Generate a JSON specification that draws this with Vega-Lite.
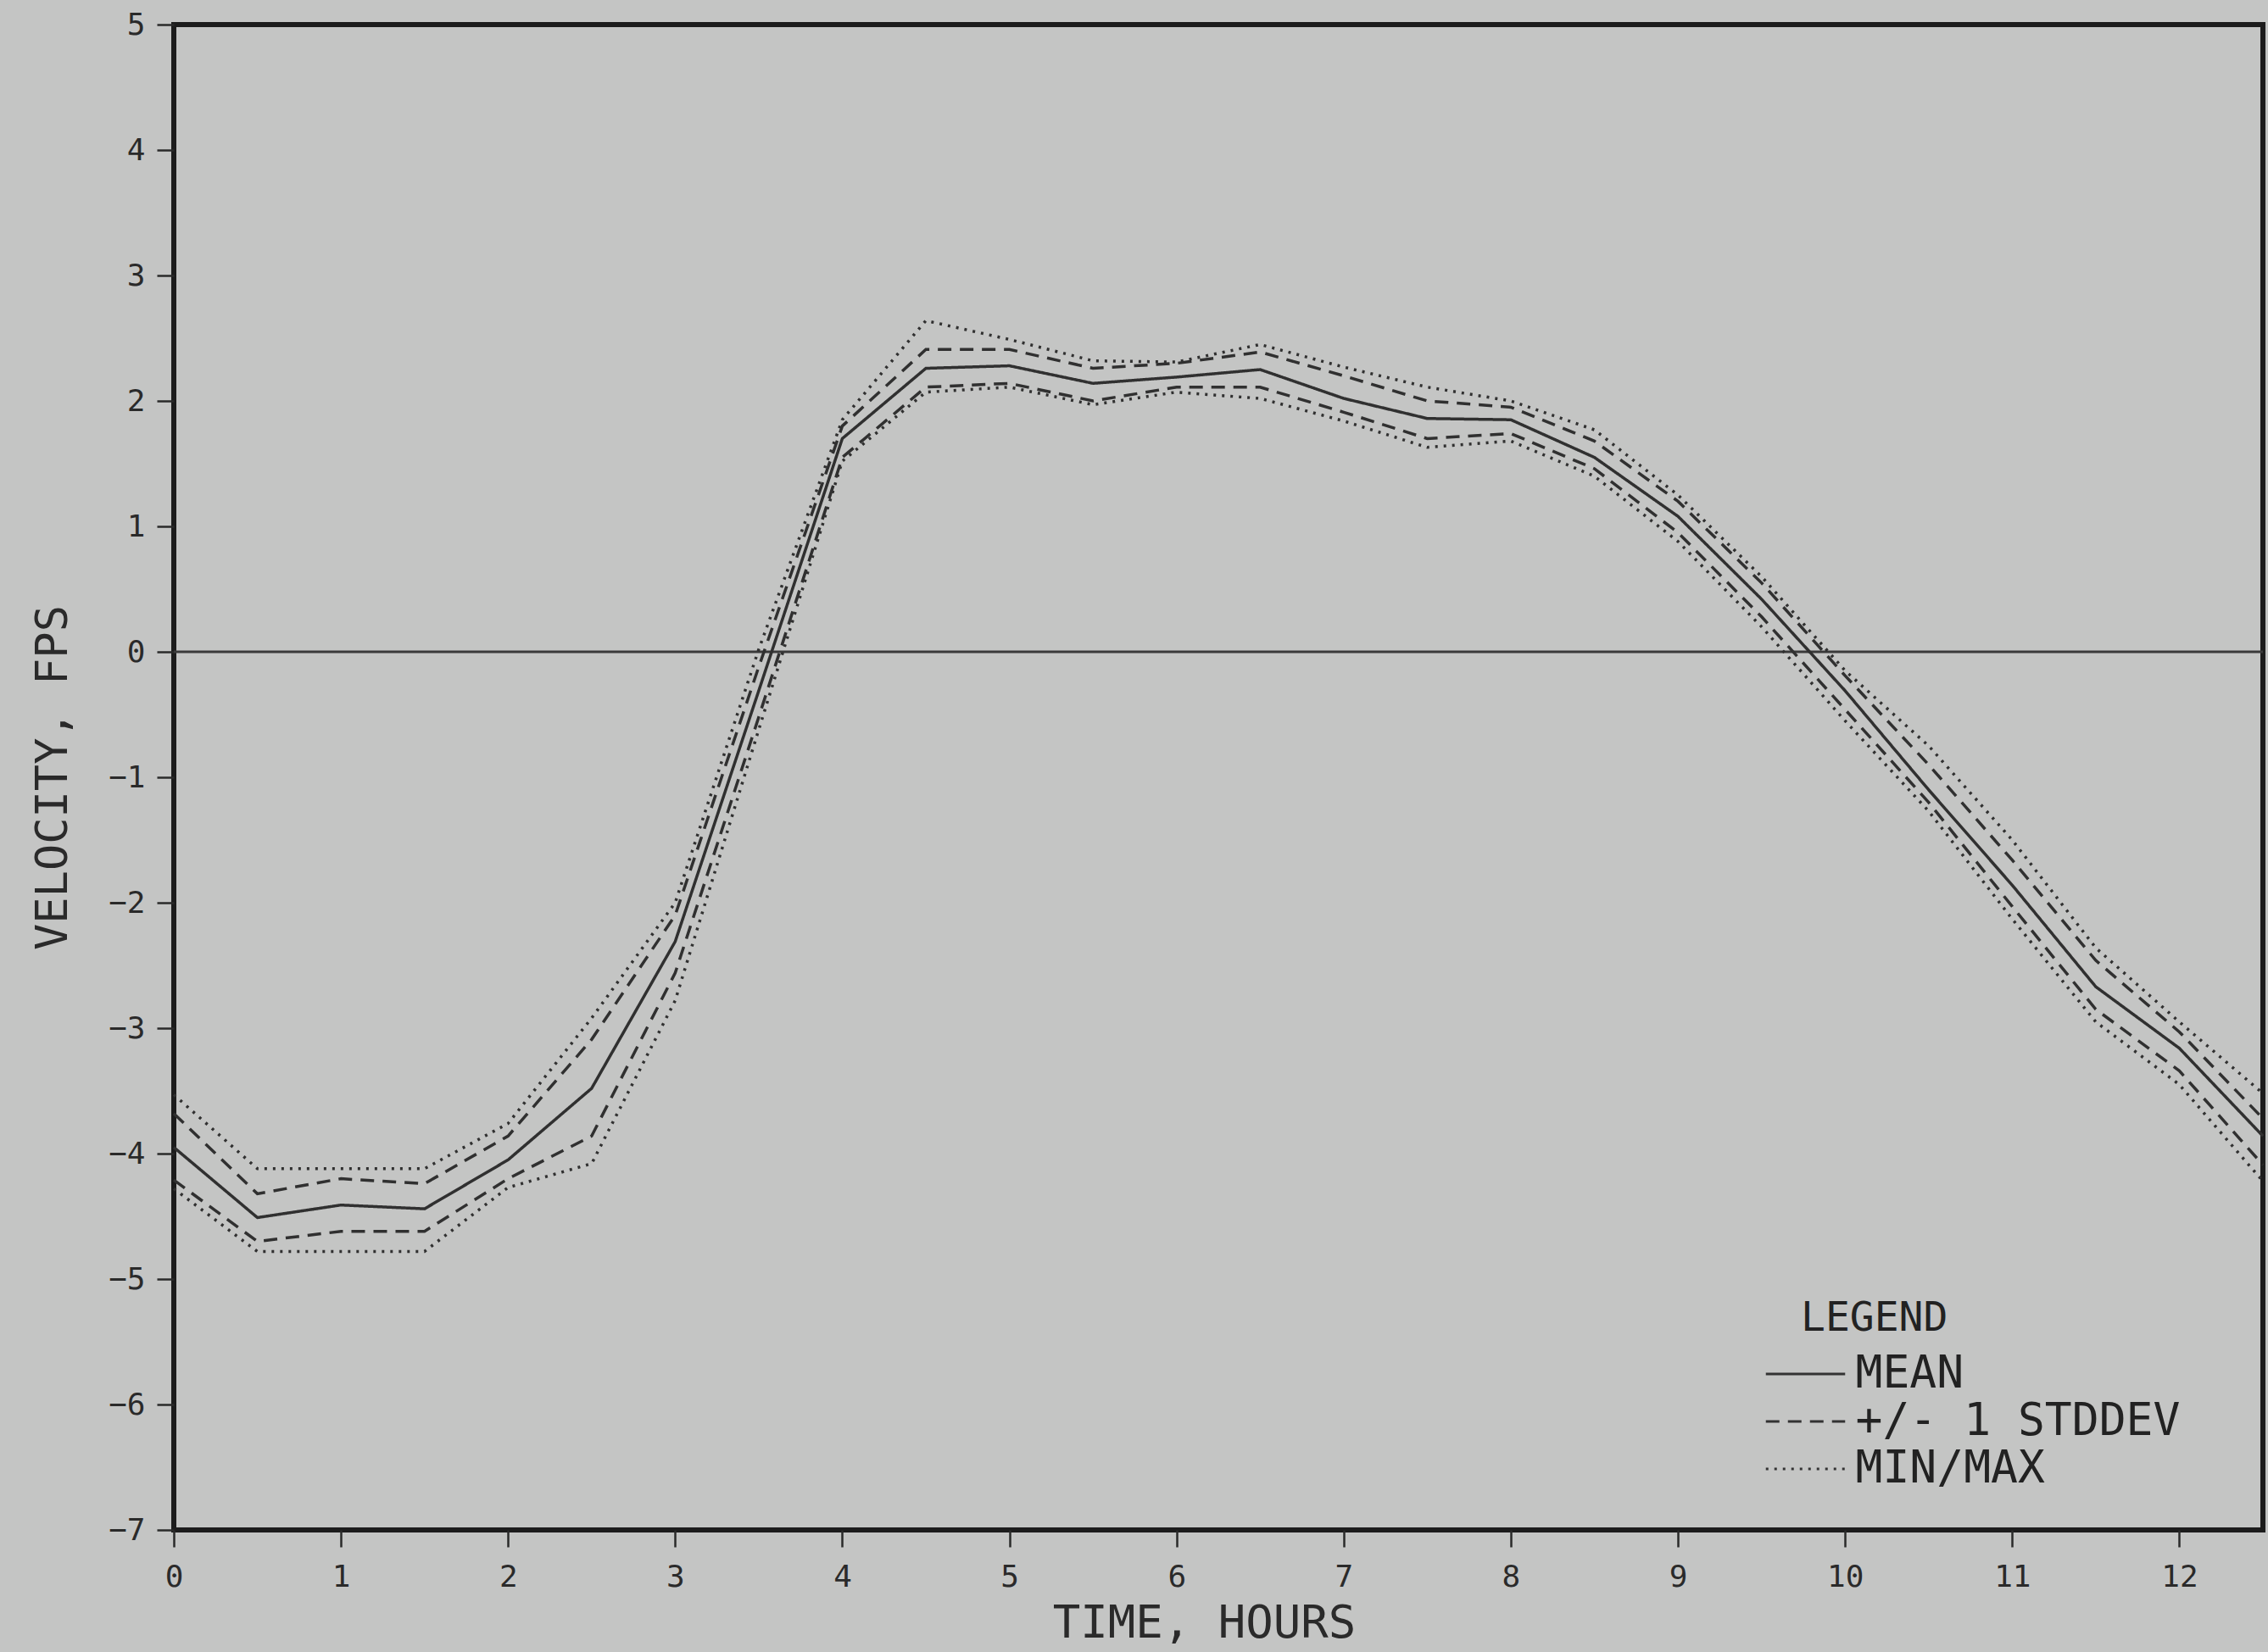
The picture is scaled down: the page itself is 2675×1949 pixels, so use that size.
{
  "$schema": "https://vega.github.io/schema/vega-lite/v6.json",
  "width": 2464,
  "height": 1776,
  "autosize": {"type": "none"},
  "padding": {"left": 205, "top": 29, "right": 6, "bottom": 144},
  "background": "#c4c5c4",
  "config": {
    "font": "DejaVu Sans Mono",
    "view": {"stroke": "#1c1c1c", "strokeWidth": 6},
    "axis": {
      "grid": false,
      "domain": false,
      "tickColor": "#2a2a2a",
      "tickWidth": 2.5,
      "tickSize": 20,
      "labelFont": "DejaVu Sans Mono",
      "labelFontSize": 36,
      "labelColor": "#2a2a2a",
      "titleFont": "DejaVu Sans Mono",
      "titleFontSize": 54,
      "titleFontWeight": "normal",
      "titleColor": "#2a2a2a"
    }
  },
  "datasets": {
    "velocity": [
      {"t": 0, "max": -3.53, "sdhi": -3.68, "mean": -3.95, "sdlo": -4.21, "min": -4.28},
      {"t": 0.5, "max": -4.12, "sdhi": -4.32, "mean": -4.51, "sdlo": -4.70, "min": -4.78},
      {"t": 1, "max": -4.12, "sdhi": -4.20, "mean": -4.41, "sdlo": -4.62, "min": -4.78},
      {"t": 1.5, "max": -4.12, "sdhi": -4.24, "mean": -4.44, "sdlo": -4.62, "min": -4.78},
      {"t": 2, "max": -3.76, "sdhi": -3.86, "mean": -4.05, "sdlo": -4.20, "min": -4.27},
      {"t": 2.5, "max": -2.92, "sdhi": -3.09, "mean": -3.48, "sdlo": -3.86, "min": -4.08},
      {"t": 3, "max": -2.0, "sdhi": -2.1, "mean": -2.31, "sdlo": -2.56, "min": -2.78},
      {"t": 3.5, "max": 0.02, "sdhi": -0.12, "mean": -0.31, "sdlo": -0.52, "min": -0.62},
      {"t": 4, "max": 1.85, "sdhi": 1.80, "mean": 1.70, "sdlo": 1.55, "min": 1.52},
      {"t": 4.5, "max": 2.64, "sdhi": 2.41, "mean": 2.26, "sdlo": 2.11, "min": 2.07},
      {"t": 5, "max": 2.49, "sdhi": 2.41, "mean": 2.28, "sdlo": 2.14, "min": 2.11},
      {"t": 5.5, "max": 2.32, "sdhi": 2.26, "mean": 2.14, "sdlo": 2.0, "min": 1.97},
      {"t": 6, "max": 2.31, "sdhi": 2.30, "mean": 2.19, "sdlo": 2.11, "min": 2.07},
      {"t": 6.5, "max": 2.45, "sdhi": 2.39, "mean": 2.25, "sdlo": 2.11, "min": 2.02},
      {"t": 7, "max": 2.27, "sdhi": 2.20, "mean": 2.02, "sdlo": 1.91, "min": 1.84},
      {"t": 7.5, "max": 2.11, "sdhi": 2.0, "mean": 1.86, "sdlo": 1.70, "min": 1.63},
      {"t": 8, "max": 2.0, "sdhi": 1.95, "mean": 1.85, "sdlo": 1.74, "min": 1.68},
      {"t": 8.5, "max": 1.77, "sdhi": 1.68, "mean": 1.55, "sdlo": 1.46, "min": 1.40},
      {"t": 9, "max": 1.25, "sdhi": 1.20, "mean": 1.08, "sdlo": 0.95, "min": 0.88},
      {"t": 9.5, "max": 0.6, "sdhi": 0.55, "mean": 0.42, "sdlo": 0.28, "min": 0.2},
      {"t": 10, "max": -0.15, "sdhi": -0.19, "mean": -0.31, "sdlo": -0.46, "min": -0.55},
      {"t": 10.5, "max": -0.75, "sdhi": -0.9, "mean": -1.1, "sdlo": -1.2, "min": -1.27},
      {"t": 11, "max": -1.5, "sdhi": -1.66, "mean": -1.86, "sdlo": -2.03, "min": -2.13},
      {"t": 11.5, "max": -2.36, "sdhi": -2.46, "mean": -2.67, "sdlo": -2.85, "min": -2.95},
      {"t": 12, "max": -2.95, "sdhi": -3.03, "mean": -3.16, "sdlo": -3.34, "min": -3.45},
      {"t": 12.5, "max": -3.52, "sdhi": -3.72, "mean": -3.86, "sdlo": -4.09, "min": -4.22}
    ],
    "kinds": [
      {"series": "mean", "kind": "MEAN"},
      {"series": "sdhi", "kind": "+/- 1 STDDEV"},
      {"series": "sdlo", "kind": "+/- 1 STDDEV"},
      {"series": "max", "kind": "MIN/MAX"},
      {"series": "min", "kind": "MIN/MAX"}
    ]
  },
  "layer": [
    {
      "data": {"values": [{}]},
      "mark": {"type": "rule", "color": "#3a3a3a", "strokeWidth": 3},
      "encoding": {
        "y": {"datum": 0, "type": "quantitative", "scale": {"domain": [-7, 5], "nice": false}}
      }
    },
    {
      "data": {"name": "velocity"},
      "transform": [
        {"fold": ["mean", "sdhi", "sdlo", "max", "min"], "as": ["series", "v"]},
        {"lookup": "series", "from": {"data": {"name": "kinds"}, "key": "series", "fields": ["kind"]}}
      ],
      "mark": {"type": "line", "strokeCap": "butt", "color": "#303030", "strokeWidth": 3.5},
      "encoding": {
        "x": {
          "field": "t",
          "type": "quantitative",
          "scale": {"domain": [0, 12.5], "nice": false, "zero": false},
          "axis": {
            "values": [0, 1, 2, 3, 4, 5, 6, 7, 8, 9, 10, 11, 12],
            "format": "d",
            "title": "TIME, HOURS",
            "labelFlush": false,
            "labelOverlap": false,
            "labelPadding": 18,
            "titlePadding": 10,
            "titleX": 1215
          }
        },
        "y": {
          "field": "v",
          "type": "quantitative",
          "scale": {"domain": [-7, 5], "nice": false},
          "axis": {
            "values": [-7, -6, -5, -4, -3, -2, -1, 0, 1, 2, 3, 4, 5],
            "format": "d",
            "title": "VELOCITY, FPS",
            "titleFontSize": 52,
            "labelPadding": 14,
            "titlePadding": 38
          }
        },
        "detail": {"field": "series"},
        "strokeDash": {
          "field": "kind",
          "type": "nominal",
          "scale": {"domain": ["MEAN", "+/- 1 STDDEV", "MIN/MAX"], "range": [[1, 0], [16, 10], [3, 7]]},
          "legend": {
            "orient": "none",
            "legendX": 1919,
            "legendY": 1503,
            "title": "LEGEND",
            "titleFontSize": 48,
            "titleFontWeight": "normal",
            "titleColor": "#222222",
            "titlePadding": 12,
            "titleAnchor": "start",
            "titleLimit": 800,
            "labelFontSize": 53,
            "labelColor": "#222222",
            "labelLimit": 800,
            "symbolType": "M-1.7,0H1.7",
            "symbolSize": 3025,
            "symbolStrokeWidth": 3,
            "symbolStrokeColor": "#333333",
            "symbolOffset": -23.5,
            "labelOffset": 30,
            "rowPadding": -4,
            "padding": 0
          }
        }
      }
    }
  ]
}
